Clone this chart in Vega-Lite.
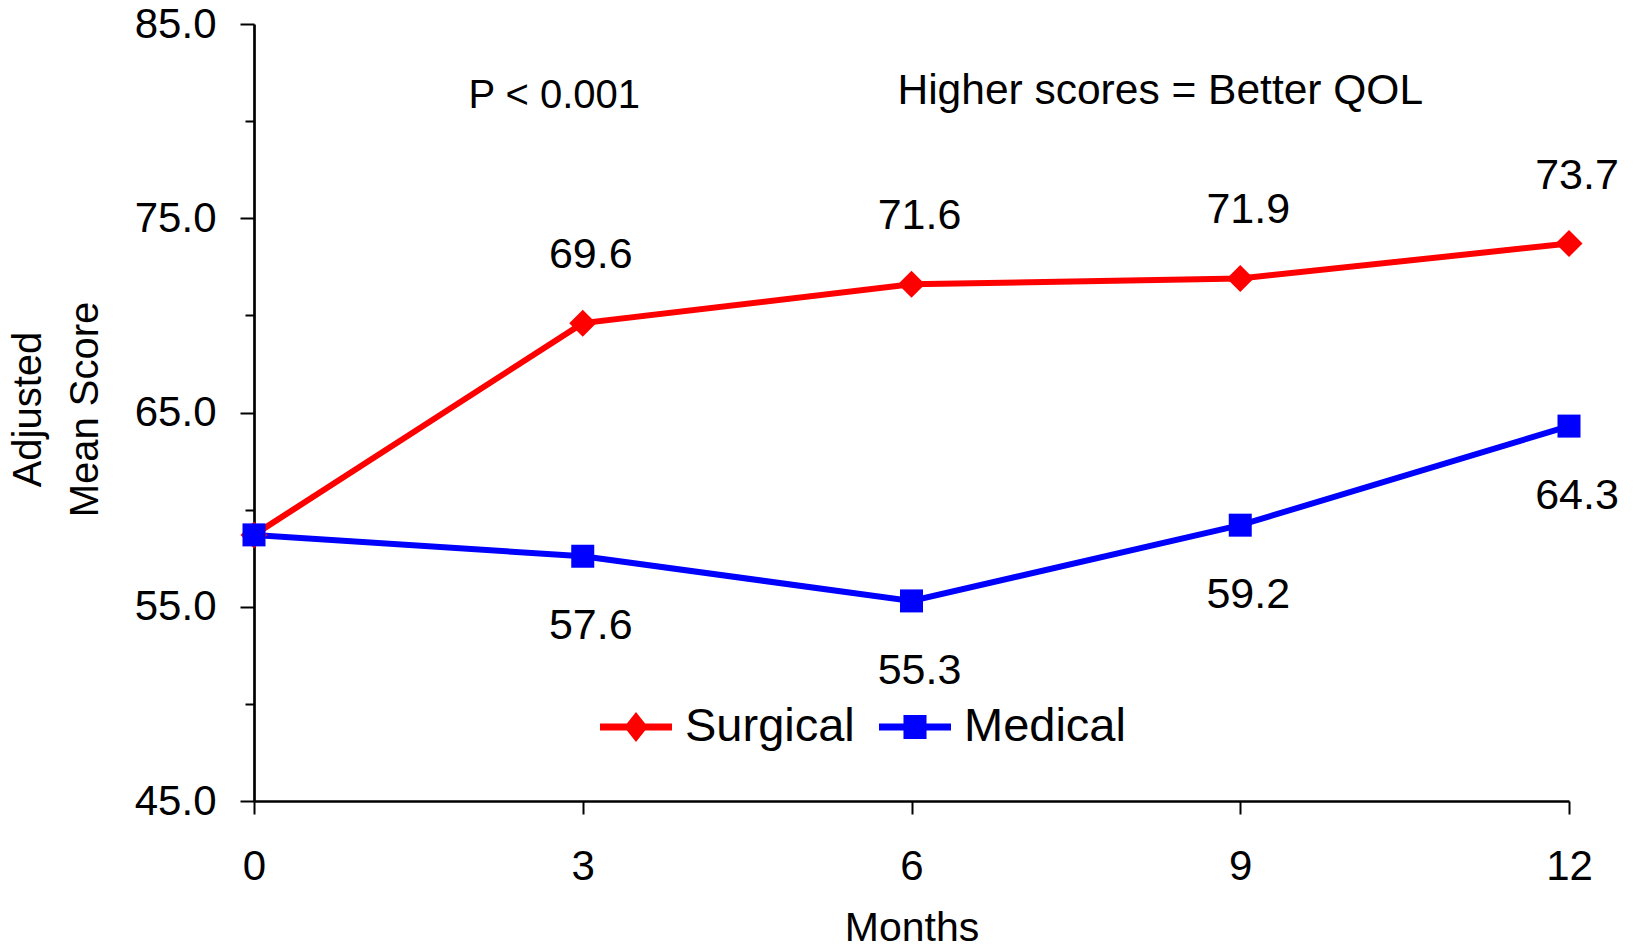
{
  "$schema": "https://vega.github.io/schema/vega-lite/v6.json",
  "width": 1315,
  "height": 777,
  "autosize": "none",
  "padding": {"left": 254, "top": 24, "right": 69, "bottom": 149},
  "background": "white",
  "config": {
    "font": "Liberation Sans",
    "view": {"stroke": null},
    "axis": {"grid": false, "domainColor": "black", "tickColor": "black", "labelColor": "black", "titleColor": "black", "labelFont": "Liberation Sans", "titleFont": "Liberation Sans", "titleFontWeight": "normal"}
  },
  "datasets": {
    "scores": [
      {"month": 0, "score": 58.7, "series": "Surgical"},
      {"month": 3, "score": 69.6, "series": "Surgical"},
      {"month": 6, "score": 71.6, "series": "Surgical"},
      {"month": 9, "score": 71.9, "series": "Surgical"},
      {"month": 12, "score": 73.7, "series": "Surgical"},
      {"month": 0, "score": 58.7, "series": "Medical"},
      {"month": 3, "score": 57.6, "series": "Medical"},
      {"month": 6, "score": 55.3, "series": "Medical"},
      {"month": 9, "score": 59.2, "series": "Medical"},
      {"month": 12, "score": 64.3, "series": "Medical"}
    ],
    "notes": [
      {"month": 2.74, "score": 81.3, "note": "P < 0.001", "size": "small"},
      {"month": 8.27, "score": 81.55, "note": "Higher scores = Better QOL", "size": "large"}
    ]
  },
  "data": {"name": "scores"},
  "encoding": {
    "x": {
      "field": "month", "type": "quantitative",
      "scale": {"domain": [0, 12], "nice": false, "zero": false},
      "axis": {
        "values": [0, 3, 6, 9, 12], "title": "Months", "titleFontSize": 41,
        "labelFontSize": 42, "labelPadding": 32, "tickSize": 13, "tickWidth": 2,
        "domainWidth": 2.7, "titlePadding": 21, "labelFlush": false
      }
    },
    "y": {
      "field": "score", "type": "quantitative",
      "scale": {"domain": [45, 85], "nice": false, "zero": false},
      "axis": {
        "values": [45, 50, 55, 60, 65, 70, 75, 80, 85],
        "labelExpr": "datum.value % 10 === 5 ? format(datum.value, '.1f') : ''",
        "tickSize": {"condition": {"test": "datum.value % 10 === 5", "value": 14}, "value": 9},
        "tickWidth": 2, "domainWidth": 2.7,
        "labelFontSize": 42, "labelPadding": 24, "labelFlush": false,
        "title": ["Adjusted", "Mean Score"], "titleFontSize": 40, "titleLineHeight": 57,
        "titleAngle": -90, "titleX": -214, "titleY": 385, "titleAlign": "center", "titleBaseline": "alphabetic"
      }
    }
  },
  "layer": [
    {
      "transform": [{"filter": "datum.series === 'Surgical'"}],
      "mark": {"type": "line", "strokeWidth": 6, "color": "#FF0000"},
      "encoding": {}
    },
    {
      "transform": [{"filter": "datum.series === 'Medical'"}],
      "mark": {"type": "line", "strokeWidth": 6, "color": "#0000FF"},
      "encoding": {}
    },
    {
      "transform": [{"filter": "datum.series === 'Surgical'"}],
      "mark": {"type": "point", "filled": true, "opacity": 1, "shape": "diamond", "size": 729, "color": "#FF0000"}
    },
    {
      "transform": [{"filter": "datum.series === 'Medical'"}],
      "mark": {"type": "point", "filled": true, "opacity": 1, "shape": "square", "size": 529, "color": "#0000FF"}
    },
    {
      "transform": [{"filter": "datum.month < 0"}],
      "mark": {"type": "point", "filled": true, "opacity": 1},
      "encoding": {
        "color": {
          "field": "series", "type": "nominal",
          "scale": {"domain": ["Surgical", "Medical"], "range": ["#FF0000", "#0000FF"]},
          "legend": {
            "orient": "none", "legendX": 346, "legendY": 667, "direction": "horizontal",
            "title": null, "labelFontSize": 47, "labelColor": "black", "labelOffset": 13, "labelLimit": 0,
            "columnPadding": 24, "symbolSize": 5184, "labelFont": "Liberation Sans",
            "symbolStrokeWidth": 0, "symbolOpacity": 1
          }
        },
        "shape": {
          "field": "series", "type": "nominal",
          "scale": {"domain": ["Surgical", "Medical"], "range": ["M-1,-0.097H1V0.097H-1Z M0,-0.42L0.33,0L0,0.42L-0.33,0Z", "M-1,-0.097H1V0.097H-1Z M-0.32,-0.33H0.32V0.33H-0.32Z"]},
          "legend": {
            "orient": "none", "legendX": 346, "legendY": 667, "direction": "horizontal",
            "title": null, "labelFontSize": 47, "labelColor": "black", "labelOffset": 13, "labelLimit": 0,
            "columnPadding": 24, "symbolSize": 5184, "labelFont": "Liberation Sans",
            "symbolStrokeWidth": 0, "symbolOpacity": 1
          }
        }
      }
    },
    {
      "transform": [{"filter": "datum.series === 'Surgical' && datum.month > 0"}],
      "mark": {"type": "text", "fontSize": 43, "dy": -68, "dx": 8, "baseline": "middle", "color": "black"},
      "encoding": {"text": {"field": "score", "type": "quantitative", "format": ".1f"}}
    },
    {
      "transform": [{"filter": "datum.series === 'Medical' && datum.month > 0"}],
      "mark": {"type": "text", "fontSize": 43, "dy": 70, "dx": 8, "baseline": "middle", "color": "black"},
      "encoding": {"text": {"field": "score", "type": "quantitative", "format": ".1f"}}
    },
    {
      "data": {"name": "notes"},
      "transform": [{"filter": "datum.size === 'small'"}],
      "mark": {"type": "text", "fontSize": 40, "baseline": "middle", "color": "black"},
      "encoding": {"text": {"field": "note"}}
    },
    {
      "data": {"name": "notes"},
      "transform": [{"filter": "datum.size === 'large'"}],
      "mark": {"type": "text", "fontSize": 42.5, "baseline": "middle", "color": "black"},
      "encoding": {"text": {"field": "note"}}
    }
  ]
}
